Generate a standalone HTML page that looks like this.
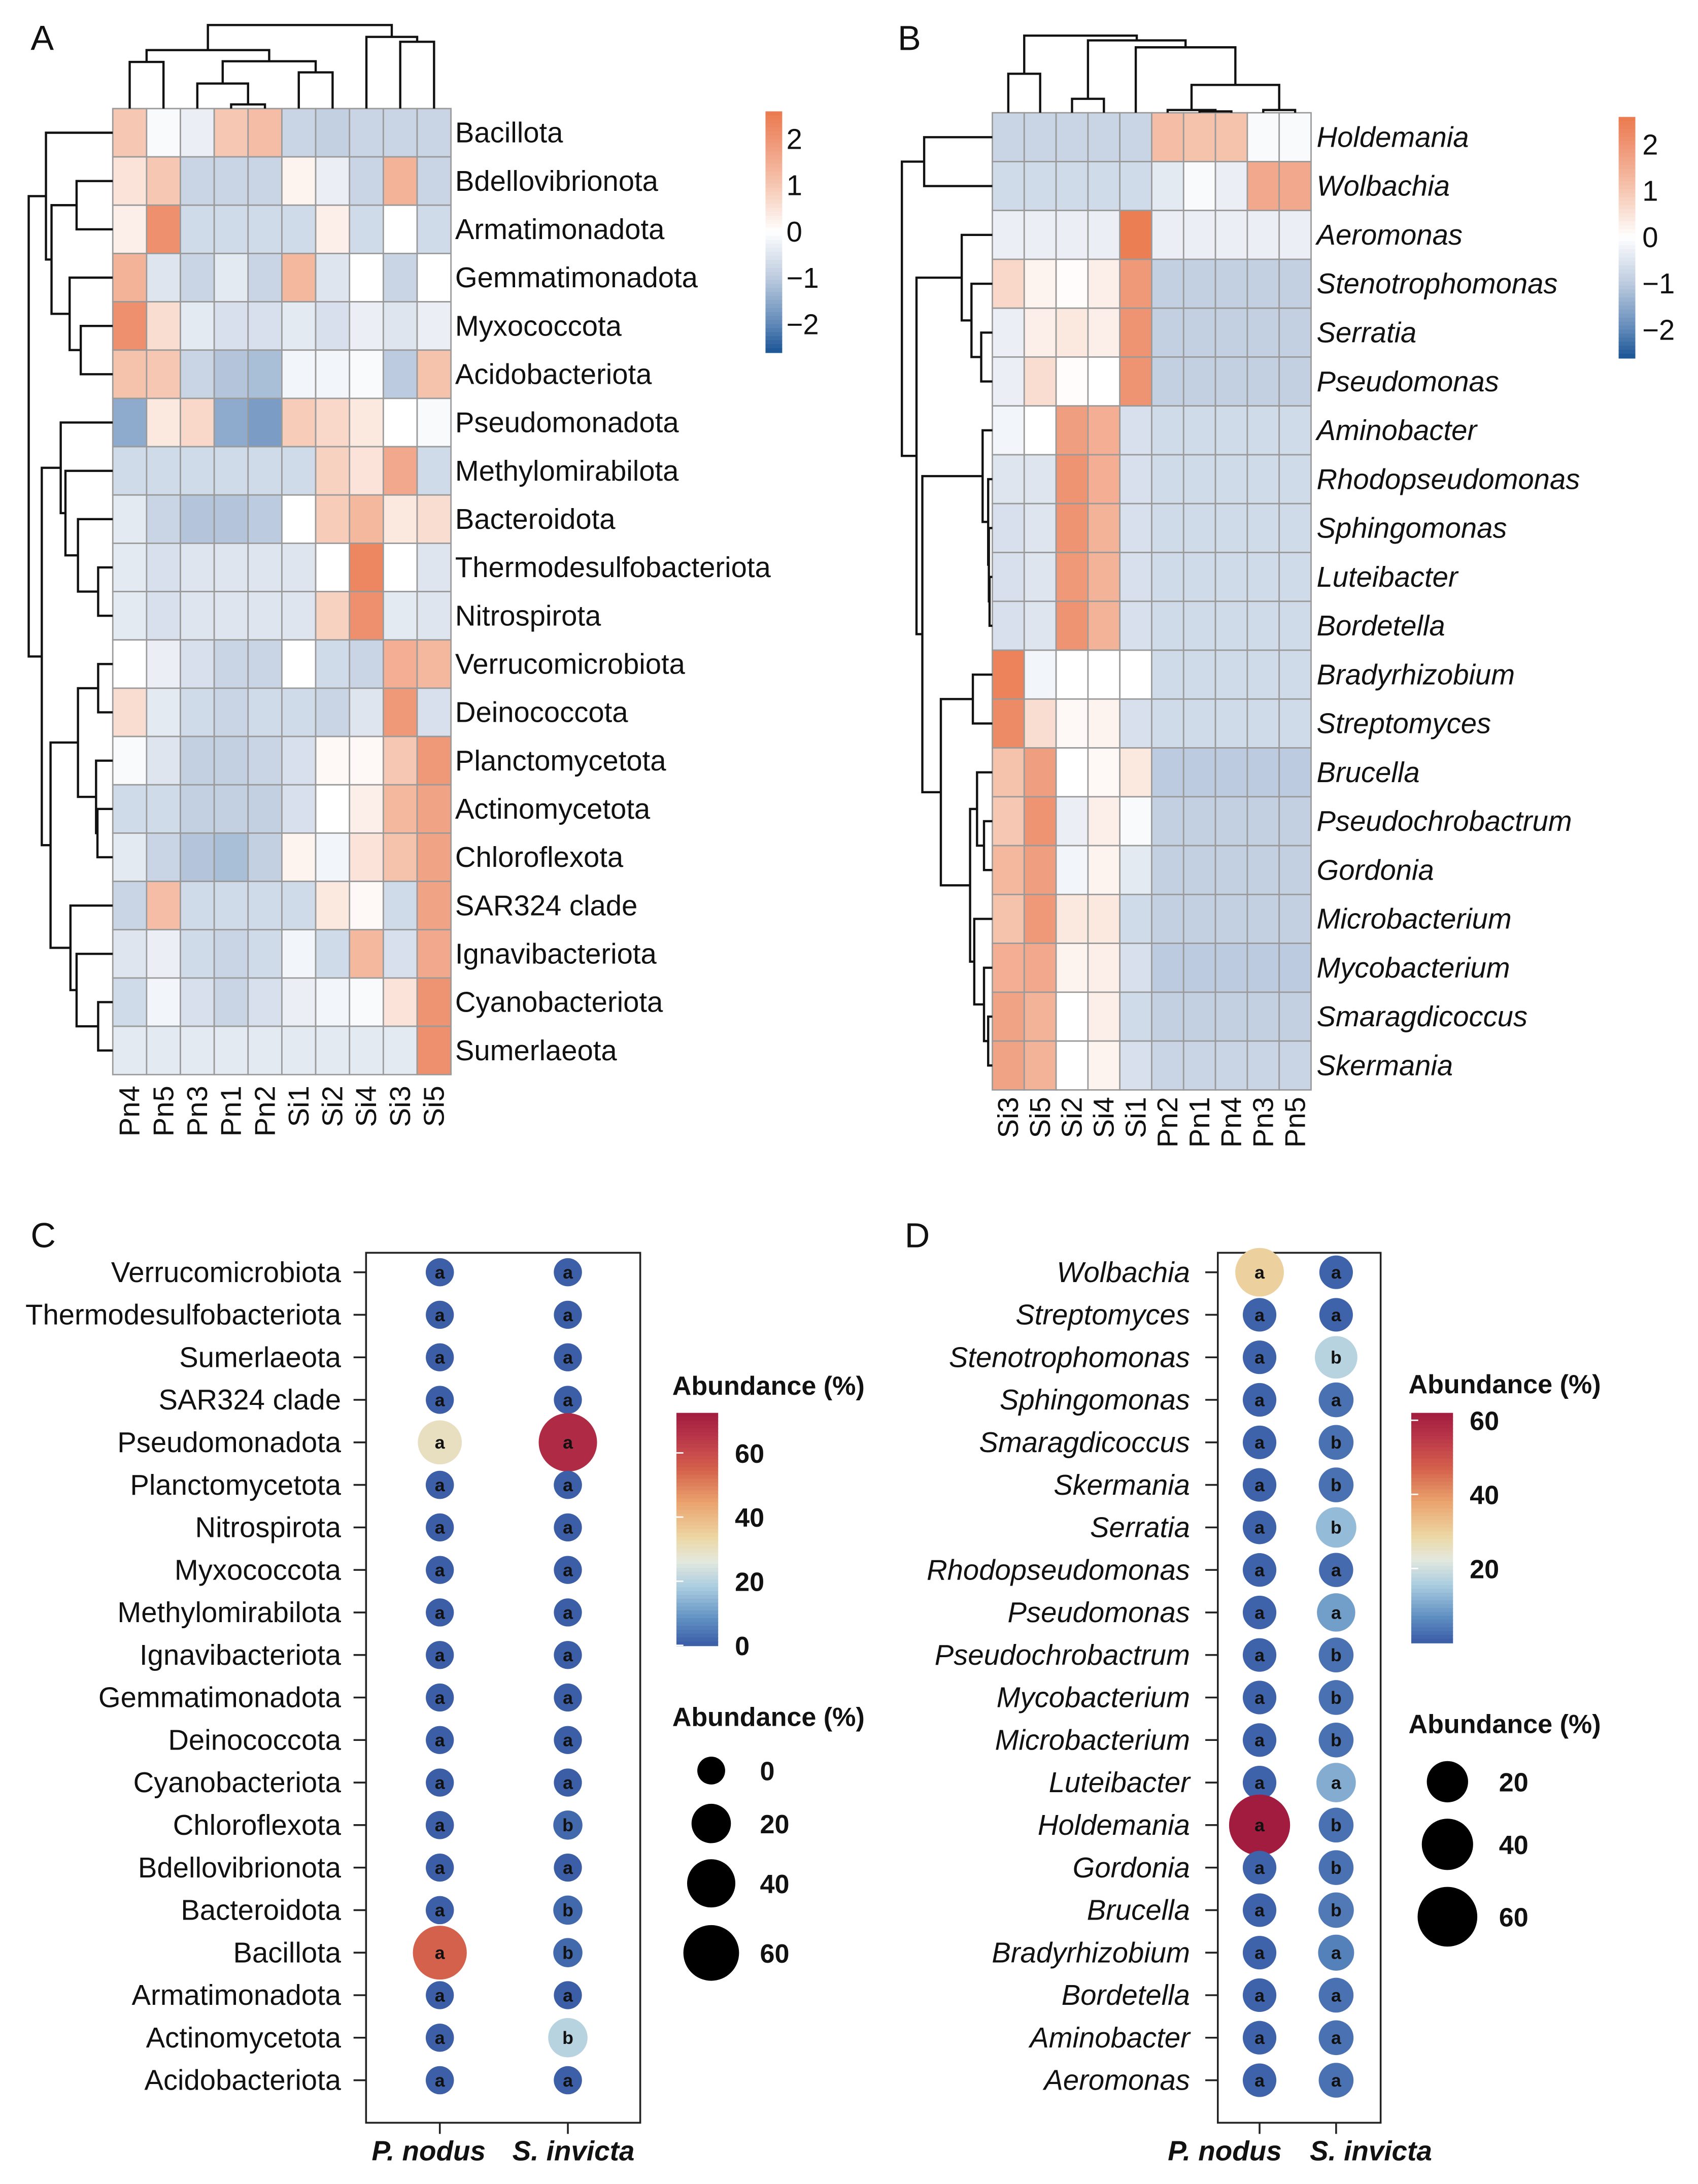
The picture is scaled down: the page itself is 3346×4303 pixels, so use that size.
<!DOCTYPE html>
<html><head><meta charset="utf-8"><style>
html,body{margin:0;padding:0;background:#fff}
svg{display:block}
text{font-family:"Liberation Sans",Arial,sans-serif;fill:#111}
</style></head><body>
<svg id="fig" width="3346" height="4303" viewBox="0 0 1220 1569" xmlns="http://www.w3.org/2000/svg">
<rect width="1220" height="1569" fill="#fff"/>
<text x="22" y="36" font-size="25">A</text>
<text x="645" y="36" font-size="25">B</text>
<text x="22" y="896" font-size="25">C</text>
<text x="650" y="896" font-size="25">D</text>
<g id="gA"></g>
<g id="gB"></g>
<g id="gC"></g>
<g id="gD"></g>
</svg>
<script>
const aCols = ["Pn4","Pn5","Pn3","Pn1","Pn2","Si1","Si2","Si4","Si3","Si5"];
const aRows = ["Bacillota","Bdellovibrionota","Armatimonadota","Gemmatimonadota","Myxococcota","Acidobacteriota","Pseudomonadota","Methylomirabilota","Bacteroidota","Thermodesulfobacteriota","Nitrospirota","Verrucomicrobiota","Deinococcota","Planctomycetota","Actinomycetota","Chloroflexota","SAR324 clade","Ignavibacteriota","Cyanobacteriota","Sumerlaeota"];
const aVals = [
[1,-0.1,-0.3,1,1.2,-0.8,-0.9,-0.8,-0.8,-0.8],
[0.5,1,-0.8,-0.8,-0.8,0.2,-0.3,-0.8,1.4,-0.8],
[0.3,2.1,-0.7,-0.7,-0.7,-0.7,0.3,-0.7,0,-0.7],
[1.4,-0.5,-0.8,-0.4,-0.8,1.3,-0.5,0,-0.8,0],
[2.1,0.6,-0.4,-0.6,-0.6,-0.4,-0.6,-0.3,-0.5,-0.3],
[1.1,1,-0.8,-1.1,-1.2,-0.2,-0.2,-0.1,-1,1.1],
[-1.5,0.4,0.7,-1.5,-1.7,0.9,0.7,0.4,0,-0.1],
[-0.7,-0.7,-0.7,-0.7,-0.7,-0.7,0.8,0.5,1.6,-0.7],
[-0.4,-0.8,-1.1,-1.1,-1.0,0,0.9,1.3,0.4,0.6],
[-0.4,-0.6,-0.5,-0.5,-0.5,-0.5,0,2.3,0,-0.5],
[-0.4,-0.6,-0.5,-0.5,-0.5,-0.5,0.8,2.1,-0.4,-0.5],
[0,-0.3,-0.6,-0.8,-0.8,0,-0.7,-0.8,1.5,1.3],
[0.6,-0.4,-0.7,-0.8,-0.7,-0.7,-0.8,-0.5,1.9,-0.6],
[-0.1,-0.5,-0.9,-0.9,-0.8,-0.6,0.1,0.1,1.0,1.9],
[-0.7,-0.7,-0.9,-0.9,-0.9,-0.6,0,0.3,1.3,1.7],
[-0.4,-0.8,-1.1,-1.2,-0.9,0.2,-0.2,0.5,1.1,1.7],
[-0.8,1.2,-0.7,-0.7,-0.7,-0.7,0.4,0.1,-0.7,1.7],
[-0.5,-0.3,-0.7,-0.8,-0.7,-0.2,-0.7,1.3,-0.6,1.6],
[-0.7,-0.2,-0.6,-0.8,-0.6,-0.3,-0.2,-0.1,0.5,2.0],
[-0.4,-0.4,-0.4,-0.4,-0.4,-0.4,-0.4,-0.4,-0.4,2.1]];
const bCols = ["Si3","Si5","Si2","Si4","Si1","Pn2","Pn1","Pn4","Pn3","Pn5"];
const bRows = ["Holdemania","Wolbachia","Aeromonas","Stenotrophomonas","Serratia","Pseudomonas","Aminobacter","Rhodopseudomonas","Sphingomonas","Luteibacter","Bordetella","Bradyrhizobium","Streptomyces","Brucella","Pseudochrobactrum","Gordonia","Microbacterium","Mycobacterium","Smaragdicoccus","Skermania"];
const bVals = [
[-0.8,-0.8,-0.8,-0.8,-0.8,1.2,1.1,1.1,-0.1,-0.1],
[-0.7,-0.7,-0.7,-0.7,-0.7,-0.4,-0.1,-0.3,1.6,1.6],
[-0.3,-0.3,-0.3,-0.3,2.5,-0.3,-0.3,-0.3,-0.3,-0.3],
[0.7,0.2,0.05,0.3,1.9,-0.9,-0.9,-0.9,-0.9,-0.9],
[-0.3,0.3,0.4,0.3,2.0,-0.9,-0.9,-0.9,-0.9,-0.9],
[-0.3,0.6,0.05,0,2.0,-0.9,-0.9,-0.9,-0.9,-0.9],
[-0.2,0,1.8,1.5,-0.6,-0.7,-0.7,-0.7,-0.7,-0.7],
[-0.5,-0.5,2.0,1.5,-0.6,-0.7,-0.7,-0.7,-0.7,-0.7],
[-0.6,-0.5,2.0,1.4,-0.6,-0.7,-0.7,-0.7,-0.7,-0.7],
[-0.6,-0.5,1.9,1.4,-0.6,-0.7,-0.7,-0.7,-0.7,-0.7],
[-0.6,-0.5,2.0,1.4,-0.6,-0.7,-0.7,-0.7,-0.7,-0.7],
[2.4,-0.2,0,0,0,-0.7,-0.7,-0.7,-0.7,-0.7],
[2.2,0.6,0.1,0.2,-0.6,-0.7,-0.7,-0.7,-0.7,-0.7],
[1.1,1.8,0,0.1,0.4,-1.0,-1.0,-1.0,-1.0,-1.0],
[1.0,2.0,-0.3,0.3,-0.1,-0.9,-0.9,-0.9,-0.9,-0.9],
[1.3,1.8,-0.2,0.2,-0.4,-0.9,-0.9,-0.9,-0.9,-0.9],
[1.1,1.9,0.4,0.4,-0.7,-0.9,-0.9,-0.9,-0.9,-0.9],
[1.5,1.6,0.2,0.3,-0.6,-1.0,-1.0,-1.0,-1.0,-1.0],
[1.7,1.4,0,0.3,-0.7,-0.9,-0.9,-0.9,-0.9,-0.9],
[1.7,1.4,0,0.2,-0.6,-0.8,-0.8,-0.8,-0.8,-0.8]];
const cRows = ["Verrucomicrobiota","Thermodesulfobacteriota","Sumerlaeota","SAR324 clade","Pseudomonadota","Planctomycetota","Nitrospirota","Myxococcota","Methylomirabilota","Ignavibacteriota","Gemmatimonadota","Deinococcota","Cyanobacteriota","Chloroflexota","Bdellovibrionota","Bacteroidota","Bacillota","Armatimonadota","Actinomycetota","Acidobacteriota"];
const cPn = [0.5,0.3,0.3,0.3,30,0.5,0.3,0.3,0.3,0.3,0.3,0.3,0.3,0.5,0.3,0.5,55,0.3,0.5,0.5];
const cSi = [0.5,0.3,0.3,0.3,68,0.5,0.3,0.3,0.3,0.3,0.3,0.3,0.3,2,0.3,2,2,0.3,20,0.5];
const cPnL = ["a","a","a","a","a","a","a","a","a","a","a","a","a","a","a","a","a","a","a","a"];
const cSiL = ["a","a","a","a","a","a","a","a","a","a","a","a","a","b","a","b","b","a","b","a"];
const dRows = ["Wolbachia","Streptomyces","Stenotrophomonas","Sphingomonas","Smaragdicoccus","Skermania","Serratia","Rhodopseudomonas","Pseudomonas","Pseudochrobactrum","Mycobacterium","Microbacterium","Luteibacter","Holdemania","Gordonia","Brucella","Bradyrhizobium","Bordetella","Aminobacter","Aeromonas"];
const dPn = [30,1,1,1,1,1,1,1,1,1,1,1,1,62,1,1,1,1,1,1];
const dSi = [1,1,17,3,3,3,13,2,9,3,3,3,11,3,3,4,5,3,3,3];
const dPnL = ["a","a","a","a","a","a","a","a","a","a","a","a","a","a","a","a","a","a","a","a"];
const dSiL = ["a","a","b","a","b","b","b","a","a","b","b","b","a","b","b","b","a","a","a","a"];
const cTicks = [0,20,40,60];
const cSizeTicks = [0,20,40,60];
const dTicks = [20,40,60];
const dSizeTicks = [20,40,60];
const hTicks = [2,1,0,-1,-2];
const treeAtop = [[[0,1,44.5],[[2,[3,4,75],60],[5,6,52],44],36],[7,[8,9,30],26.5],18];
const treeAleft = [[0,[[1,2,55],[3,[4,5,58],50],37],33],[[6,[7,[8,[9,10,70.5],56],47],43.6],[[[11,12,70.5],[13,[14,15,70],69],56],[16,[17,[18,19,70.5],55],50.6],36.3],30],20.6];
const treeBtop = [[0,1,53],[[2,3,71],[4,[[5,[6,7,80],79],[8,9,79],61],34],29],25.6];
const treeBleft = [[0,1,664],[[2,[3,[4,5,705],698],691],[[6,[7,[8,[9,10,711],710.5],710],706],[[11,12,699],[[13,[14,15,707],702],[16,[17,[18,19,710],707],700],697],676],662.7],658.5],648];

const NS="http://www.w3.org/2000/svg";
function mk(tag,attrs,parent){const e=document.createElementNS(NS,tag);for(const k in attrs)e.setAttribute(k,attrs[k]);parent.appendChild(e);return e;}
function hx(h){return [parseInt(h.slice(1,3),16),parseInt(h.slice(3,5),16),parseInt(h.slice(5,7),16)];}
function interp(stops,v){if(v<=stops[0][0])return stops[0][1];for(let i=1;i<stops.length;i++){if(v<=stops[i][0]){const t=(v-stops[i-1][0])/(stops[i][0]-stops[i-1][0]);const a=hx(stops[i-1][1]),b=hx(stops[i][1]);return "rgb("+a.map((x,j)=>Math.round(x+(b[j]-x)*t)).join(",")+")";}}return stops[stops.length-1][1];}
const hStops=[[-2.6,"#1b5596"],[-2,"#5f88b8"],[-1,"#bccbdf"],[0,"#ffffff"],[1,"#f6c7b2"],[2,"#ef9473"],[2.6,"#eb7a4e"]];
const cStops=[[0,"#3a5ca6"],[0.11,"#5f8ec2"],[0.25,"#aacde0"],[0.36,"#e4e8df"],[0.46,"#ecd8a6"],[0.61,"#eba46e"],[0.76,"#d4604b"],[0.9,"#b8344a"],[1,"#a11c3e"]];
function hColor(v){return interp(hStops,v);}
function bColor(t){return interp(cStops,t);}

function heatmap(g,cols,rows,vals,x0,y0,cw,rh,labX,italic,colLabY,tTop,tLeft){
  rows.forEach((r,i)=>{cols.forEach((c,j)=>{
    const rc=mk("rect",{x:x0+j*cw,y:y0+i*rh,width:cw,height:rh,fill:hColor(vals[i][j]),stroke:"#9a9a9a","stroke-width":1},g);
    
    
  });
    const t=mk("text",{x:labX,y:y0+i*rh+rh/2+7,"font-size":20.5,"font-style":italic?"italic":"normal"},g);t.textContent=r;
    
    
  });
  cols.forEach((c,j)=>{const cx=x0+j*cw+cw/2+7;
    const t=mk("text",{x:0,y:0,"font-size":20.5,"text-anchor":"end",transform:`translate(${cx},${colLabY}) rotate(-90)`},g);t.textContent=c;
    
    
  });
  const colPos=j=>x0+j*cw+cw/2, rowPos=i=>y0+i*rh+rh/2;
  let d="";
  function walk(n,posf,leafLvl,horiz){
    if(typeof n==="number")return [posf(n),leafLvl];
    const a=walk(n[0],posf,leafLvl,horiz),b=walk(n[1],posf,leafLvl,horiz),h=n[2];
    if(horiz){d+=`M${a[0]},${a[1]}V${h}H${b[0]}V${b[1]}`;}
    else{d+=`M${a[1]},${a[0]}H${h}V${b[0]}H${b[1]}`;}
    return [(a[0]+b[0])/2,h];
  }
  walk(tTop,colPos,y0,true);
  const p1=mk("path",{d:d,fill:"none",stroke:"#111","stroke-width":1.6},g);
  
  
  d="";walk(tLeft,rowPos,x0,false);
  const p2=mk("path",{d:d,fill:"none",stroke:"#111","stroke-width":1.6},g);
  
  
}
function hLegend(g,x,yTop,yBot,lx){
  const N=60,h=(yBot-yTop)/N;
  for(let k=0;k<N;k++){const v=2.6-5.2*(k+0.5)/N;
    const r=mk("rect",{x:x,y:yTop+k*h,width:12,height:h+0.6,fill:hColor(v)},g);
    
    }
  hTicks.forEach(v=>{const y=yTop+(2.6-v)/5.2*(yBot-yTop);
    const t=mk("text",{x:lx,y:y+7,"font-size":20.5},g);t.textContent=v<0?"\u2212"+(-v):String(v);
    
    });
}
const gA=document.getElementById("gA"),gB=document.getElementById("gB");
heatmap(gA,aCols,aRows,aVals,81,78,24.3,34.7,327,false,780,treeAtop,treeAleft);
hLegend(gA,550,80,253,565);
heatmap(gB,bCols,bRows,bVals,713,81,22.9,35.1,946,true,788,treeBtop,treeBleft);
hLegend(gB,1163,84,257,1180);

function bubble(g,rows,pn,si,pnL,siL,box,labX,colX,italic,rFn,ticks,sizeTicks,leg){
  const rowY=i=>box.y0+14+i*box.step;
  const fr=mk("rect",{x:box.x0,y:box.y0,width:box.x1-box.x0,height:box.y1-box.y0,fill:"none",stroke:"#222","stroke-width":1.3},g);
  
  
  rows.forEach((r,i)=>{const y=rowY(i);
    const t=mk("text",{x:labX,y:y+7,"font-size":20.5,"text-anchor":"end","font-style":italic?"italic":"normal"},g);t.textContent=r;
    
    
    const tk=mk("line",{x1:box.x0-9,x2:box.x0,y1:y,y2:y,stroke:"#222","stroke-width":1.3},g);
    
    
    [[pn,pnL,0],[si,siL,1]].forEach(([vals,labs,k])=>{
      const c=mk("circle",{cx:colX[k],cy:y,r:rFn(vals[i]),fill:bColor(vals[i]/leg.vmax)},g);
      
      
      const l=mk("text",{x:colX[k],y:y+4.5,"font-size":13,"text-anchor":"middle","font-weight":"bold"},g);l.textContent=labs[i];
      
      
    });
  });
  ["P. nodus","S. invicta"].forEach((s,k)=>{
    const tk=mk("line",{x1:colX[k],x2:colX[k],y1:box.y1,y2:box.y1+8,stroke:"#222","stroke-width":1.3},g);
    
    
    const t=mk("text",{x:leg.xl[k],y:box.y1+27,"font-size":20,"text-anchor":"middle","font-style":"italic","font-weight":"bold"},g);t.textContent=s;
    
    
  });
  const t1=mk("text",{x:leg.tx,y:leg.ty1,"font-size":19,"font-weight":"bold"},g);t1.textContent="Abundance (%)";
  
  
  const N=60,h=(leg.bb-leg.bt)/N;
  for(let k=0;k<N;k++){const t=1-(k+0.5)/N;
    const r=mk("rect",{x:leg.bx,y:leg.bt+k*h,width:30,height:h+0.6,fill:bColor(t)},g);
    
    }
  ticks.forEach(v=>{const y=leg.bt+(leg.vmax-v)/leg.vmax*(leg.bb-leg.bt);
    const tl=mk("line",{x1:leg.bx,x2:leg.bx+5,y1:y,y2:y,stroke:"#fff","stroke-width":1},g);
    
    
    const t=mk("text",{x:leg.bx+42,y:y+7,"font-size":19,"font-weight":"bold"},g);t.textContent=v;
    
    });
  const t2=mk("text",{x:leg.tx,y:leg.ty2,"font-size":19,"font-weight":"bold"},g);t2.textContent="Abundance (%)";
  
  
  sizeTicks.forEach((v,k)=>{const y=leg.sy[k];
    const c=mk("circle",{cx:leg.sx,cy:y,r:leg.sr(v),fill:"#000"},g);
    
    
    const t=mk("text",{x:leg.slx,y:y+7,"font-size":19,"font-weight":"bold"},g);t.textContent=v;
    
    });
}
const rC=v=>Math.sqrt(100+5*v);
bubble(document.getElementById("gC"),cRows,cPn,cSi,cPnL,cSiL,{x0:263,x1:460,y0:900,y1:1525,step:30.55},245,[316,408],false,rC,cTicks,cSizeTicks,
 {xl:[308,412],tx:483,ty1:1002,ty2:1240,bx:486,bt:1015,bb:1182,vmax:72.5,sx:511,sy:[1272,1310,1353,1403],sr:rC,slx:546});
const rD=v=>Math.sqrt(140+5.5*v);
bubble(document.getElementById("gD"),dRows,dPn,dSi,dPnL,dSiL,{x0:875,x1:992,y0:900,y1:1525,step:30.55},855,[905,960],true,rD,dTicks,dSizeTicks,
 {xl:[880,985],tx:1012,ty1:1001,ty2:1245,bx:1014,bt:1015,bb:1180,vmax:62,sx:1040,sy:[1280,1325,1377],sr:v=>Math.sqrt(100+6*v),slx:1077});
</script>
</body></html>
